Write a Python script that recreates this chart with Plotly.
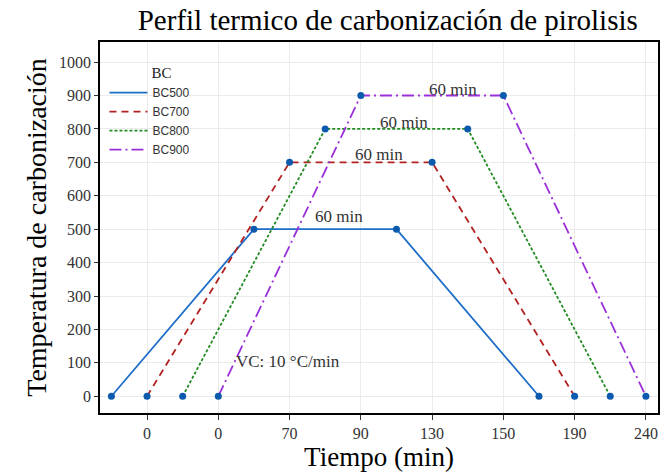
import plotly.graph_objects as go

# Data
tick_pos = [1, 2, 3, 4, 5, 6, 7, 8]
tick_labels = ["0", "0", "70", "90", "130", "150", "190", "240"]
y_ticks = [0, 100, 200, 300, 400, 500, 600, 700, 800, 900, 1000]
series_names = ["BC500", "BC700", "BC800", "BC900"]
x_bc500 = [0.5, 2.5, 4.5, 6.5]
y_bc500 = [0, 500, 500, 0]
x_bc700 = [1, 3, 5, 7]
y_bc700 = [0, 700, 700, 0]
x_bc800 = [1.5, 3.5, 5.5, 7.5]
y_bc800 = [0, 800, 800, 0]
x_bc900 = [2, 4, 6, 8]
y_bc900 = [0, 900, 900, 0]
plateau_labels = ["60 min", "60 min", "60 min", "60 min"]
label_x = [3.70, 4.26, 4.60, 5.30]
label_y = [537, 722, 818, 919]
rate_label = "VC: 10 °C/min"
rate_x = 2.98
rate_y = 104

colors = ["#1E6EC8", "#B22222", "#228B22", "#9B30D9"]
dashes = ["solid", "7px,5px", "3px,2px", "12px,4px,2px,4px"]
xs = [x_bc500, x_bc700, x_bc800, x_bc900]
ys = [y_bc500, y_bc700, y_bc800, y_bc900]

serif = "Liberation Serif, Times New Roman, serif"
sans = "Liberation Sans, Arial, sans-serif"

fig = go.Figure()
for name, x, y, c, d in zip(series_names, xs, ys, colors, dashes):
    fig.add_trace(go.Scatter(x=x, y=y, mode="lines", name=name,
                             line=dict(color=c, width=1.8, dash=d)))
for x, y in zip(xs, ys):
    fig.add_trace(go.Scatter(x=x, y=y, mode="markers", showlegend=False,
                             marker=dict(color="#0B5AAE", size=7)))

for t, lx, ly in zip(plateau_labels, label_x, label_y):
    fig.add_annotation(x=lx, y=ly, text=t, showarrow=False,
                       font=dict(family=serif, size=17, color="#333333"))
fig.add_annotation(x=rate_x, y=rate_y, text=rate_label, showarrow=False,
                   font=dict(family=serif, size=17, color="#333333"))

fig.update_layout(
    width=664, height=475,
    margin=dict(l=100, r=4, t=42, b=62),
    paper_bgcolor="white", plot_bgcolor="white",
    title=dict(text="Perfil termico de carbonización de pirolisis",
               x=0.584, xanchor="center", y=0.958, yanchor="middle",
               font=dict(family=serif, size=29, color="black")),
    legend=dict(x=0.008, y=0.955, xanchor="left", yanchor="top",
                bgcolor="rgba(0,0,0,0)",
                title=dict(text="&nbsp;" * 12 + "BC",
                           font=dict(family=serif, size=15, color="#222")),
                font=dict(family=sans, size=12, color="#333"),
                tracegroupgap=0, itemwidth=38),
    showlegend=True,
)
fig.update_xaxes(range=[0.34, 8.17], tickmode="array", tickvals=tick_pos,
                 ticktext=tick_labels, showgrid=True, gridcolor="#EBEBEB",
                 gridwidth=1, zeroline=False, showline=True, linecolor="black",
                 linewidth=1.5, mirror=True, ticks="outside", ticklen=5,
                 tickcolor="#333", tickfont=dict(family=serif, size=16, color="#333"),
                 title=dict(text="Tiempo (min)", font=dict(family=serif, size=27, color="black"),
                            standoff=2))
fig.update_yaxes(range=[-50, 1060], tickmode="array", tickvals=y_ticks,
                 showgrid=True, gridcolor="#EBEBEB", gridwidth=1, zeroline=False,
                 showline=True, linecolor="black", linewidth=1.5, mirror=True,
                 ticks="outside", ticklen=4, tickcolor="#333",
                 tickfont=dict(family=serif, size=16, color="#333"),
                 title=dict(text="Temperatura de carbonización",
                            font=dict(family=serif, size=28, color="black"), standoff=4))

fig.write_html("out.html", config={"displayModeBar": False},
               post_script="document.body.style.margin='0';")
